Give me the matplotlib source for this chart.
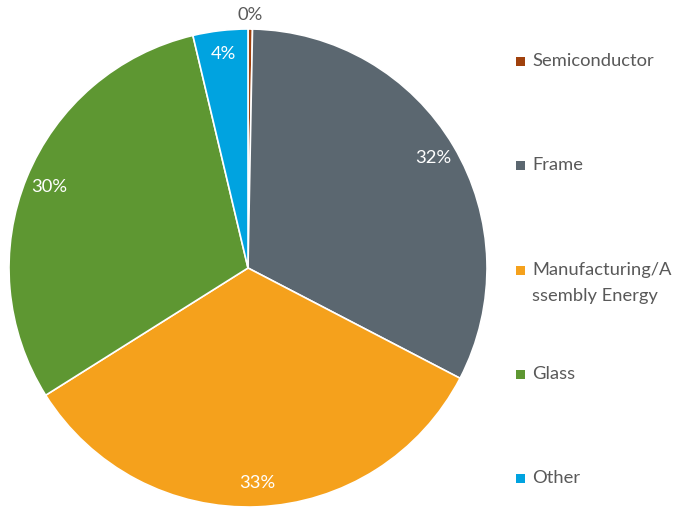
import matplotlib
matplotlib.use("Agg")
import matplotlib.pyplot as plt
from matplotlib.patches import Rectangle

# Share of embodied impact by component
categories = ["Semiconductor", "Frame", "Manufacturing/A\nssembly Energy", "Glass", "Other"]
shares = [0.3, 32.3, 33.4, 30.2, 3.7]
colors = ["#A0410D", "#5B6770", "#F5A11C", "#5E9732", "#00A3E0"]

plt.rcParams["font.family"] = ["Lato", "DejaVu Sans"]

W, H = 674, 509
fig = plt.figure(figsize=(W / 100, H / 100), dpi=100)

cx, cy, r = 248, 268, 239
ax = fig.add_axes([(cx - r) / W, (H - cy - r) / H, 2 * r / W, 2 * r / H])

wedges, texts, autotexts = ax.pie(
    shares,
    colors=colors,
    startangle=90,
    counterclock=False,
    autopct="%.0f%%",
    pctdistance=0.9,
    wedgeprops=dict(edgecolor="white", linewidth=1.2),
    textprops=dict(color="white", fontsize=13.2),
)
ax.set_xlim(-1, 1)
ax.set_ylim(-1, 1)
ax.set_aspect("equal")
ax.axis("off")

# The tiny first slice gets its label outside the pie
x0, y0 = autotexts[0].get_position()
scale = 1.06 / 0.9
autotexts[0].set_position((x0 * scale, y0 * scale))
autotexts[0].set_color("#595959")

# Legend on the right, evenly spaced rows
legend_y = [61, 165, 270, 374, 478]
line_gap = 26
for cat, col, ypx in zip(categories, colors, legend_y):
    s = 9
    fig.add_artist(Rectangle(((520 - s / 2) / W, (H - ypx - s / 2) / H), s / W, s / H,
                             transform=fig.transFigure, facecolor=col, edgecolor="none"))
    for i, line in enumerate(cat.split("\n")):
        fig.text(532 / W, (H - ypx - i * line_gap) / H, line, fontsize=13.2,
                 color="#595959", va="center", ha="left")

fig.savefig("out.png", dpi=100)
